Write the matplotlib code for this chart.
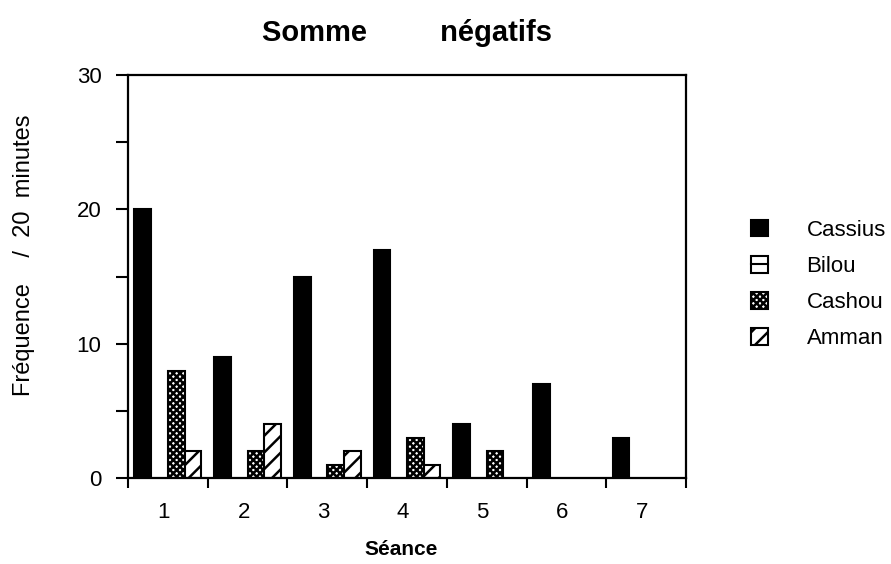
import numpy as np
import matplotlib
matplotlib.use("Agg")
import matplotlib.pyplot as plt
from matplotlib.patches import Patch
from matplotlib.lines import Line2D
from matplotlib.legend_handler import HandlerTuple

plt.rcParams['font.family'] = ['Liberation Sans', 'DejaVu Sans']
plt.rcParams['hatch.linewidth'] = 1.8

# ---- data ----
seances = ["1", "2", "3", "4", "5", "6", "7"]
series = ["Cassius", "Bilou", "Cashou", "Amman"]
cassius = [20, 9, 15, 17, 4, 7, 3]
bilou = [0, 0, 0, 0, 0, 0, 0]
cashou = [8, 2, 1, 3, 2, 0, 0]
amman = [2, 4, 2, 1, 0, 0, 0]
y_ticks = [0, 10, 20, 30]

values = [cassius, bilou, cashou, amman]
styles = [
    dict(facecolor="black", hatch=None),
    dict(facecolor="white", hatch=None),
    dict(facecolor="white", hatch="xxxxx"),
    dict(facecolor="white", hatch="//"),
]

fig = plt.figure(figsize=(8.91, 5.64), dpi=100)
ax = fig.add_axes([128/891, 1-478/564, (686-128)/891, (478-75)/564])

x = np.arange(1, len(seances) + 1)
w = 0.21
for i, (name, vals, st) in enumerate(zip(series, values, styles)):
    v = np.array(vals, dtype=float)
    mask = v > 0
    ax.bar(x[mask] + (i - 1.5) * w, v[mask], width=w, edgecolor="black",
           linewidth=1.5, label=name, **st)

ax.set_xlim(0.5, 7.5)
ax.set_ylim(0, 30)

# x ticks: separators between groups, labels at group centres
ax.set_xticks(np.arange(0.5, 8, 1.0))
ax.set_xticklabels([])
ax.set_xticks(x - 0.05, minor=True)
ax.set_xticklabels(seances, minor=True)
ax.tick_params(axis="x", which="major", direction="out", length=7, width=1.5)
ax.tick_params(axis="x", which="minor", length=0, pad=17, labelsize=16)

ax.set_yticks(y_ticks)
ax.set_yticks([5, 15, 25], minor=True)
ax.tick_params(axis="y", which="both", direction="out", length=9, width=1.5,
               pad=10, labelsize=16)

for s in ax.spines.values():
    s.set_linewidth(1.6)

ax.set_ylabel("Fréquence    /  20  minutes", fontsize=17)
ax.yaxis.set_label_coords(-0.167, 0.553)
ax.set_xlabel("Séance", fontsize=15, fontweight="bold")
ax.xaxis.set_label_coords(0.49, -0.155)

fig.text(407/891, 1-41/564, "Somme         négatifs", ha="center", va="baseline",
         fontsize=21, fontweight="bold")

handles = [Patch(edgecolor="black", linewidth=1.5, **st) for st in styles]
handles[1] = (handles[1], Line2D([], [], color="black", linewidth=1.5))
fig.legend(handles, series, loc="upper left",
           bbox_to_anchor=(751/891, 1-220/564), frameon=False,
           fontsize=16, borderpad=0, borderaxespad=0,
           handlelength=0.75, handleheight=0.75, handletextpad=1.75,
           labelspacing=0.68, handler_map={tuple: HandlerTuple(ndivide=1)})

fig.savefig("out.png", dpi=100)
